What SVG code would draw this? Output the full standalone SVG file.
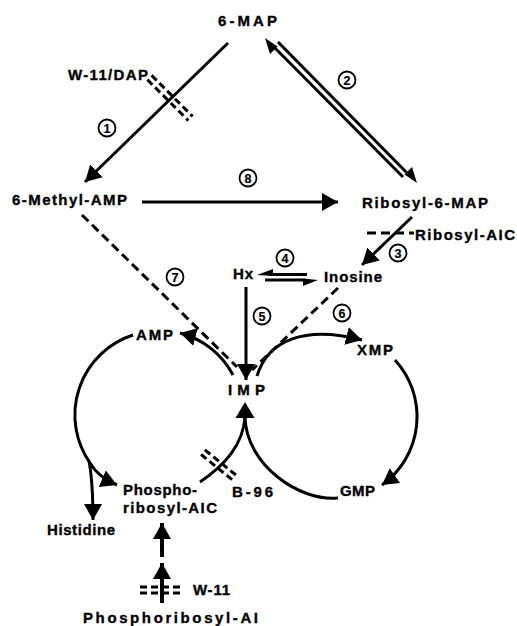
<svg xmlns="http://www.w3.org/2000/svg" width="517" height="626" viewBox="0 0 517 626">
  <style>
    text { font-family: "Liberation Sans", Arial, sans-serif; font-weight: bold; font-size: 15px; fill: #000; stroke: #000; stroke-width: 0.35; }
    .num { font-size: 12.5px; text-anchor: middle; stroke-width: 0.2; }
    .ln { fill: none; stroke: #000; stroke-width: 3; }
    .thick { fill: none; stroke: #000; stroke-width: 4; }
    .dash { fill: none; stroke: #000; stroke-width: 3; stroke-dasharray: 9 5; }
    .bar { fill: none; stroke: #000; stroke-width: 3; stroke-dasharray: 7 4; }
    .circ { fill: #fff; stroke: #000; stroke-width: 1.8; }
    .head { fill: #000; stroke: none; }
  </style>
  <defs>
    <marker id="ahBig" markerUnits="userSpaceOnUse" markerWidth="20" markerHeight="20" refX="16" refY="9" orient="auto">
      <path d="M0,0 L16,9 L0,18 z" fill="#000"/>
    </marker>
  </defs>

  <!-- connectors -->
  <g id="connectors">
    <!-- 1: 6-MAP to 6-Methyl-AMP -->
    <line class="ln" x1="228" y1="43" x2="85" y2="182" marker-end="url(#ahBig)"/>
    <!-- 2: reversible 6-MAP / Ribosyl-6-MAP -->
    <line class="ln" x1="403" y1="177" x2="272" y2="45" stroke-width="2.6"/>
    <polygon class="head" points="265,38 270,54 277.5,46.5"/>
    <line class="ln" x1="278" y1="42" x2="410" y2="176" stroke-width="2.6"/>
    <polygon class="head" points="417,183 412,167 404.5,174.5"/>
    <!-- 8: 6-Methyl-AMP to Ribosyl-6-MAP -->
    <line class="ln" x1="142" y1="202" x2="338" y2="202" marker-end="url(#ahBig)"/>
    <!-- 3: Ribosyl-6-MAP to Inosine -->
    <line class="ln" x1="412" y1="217" x2="362" y2="265" marker-end="url(#ahBig)"/>
    <!-- Ribosyl-AIC side branch -->
    <line class="dash" x1="367" y1="233" x2="414" y2="233" stroke-dasharray="10 6"/>
    <!-- 4: Hx / Inosine equilibrium -->
    <line class="ln" x1="270" y1="274.5" x2="307" y2="274.5" stroke-width="2.6"/>
    <polygon class="head" points="257,275 273,269 273,276"/>
    <line class="ln" x1="265" y1="280" x2="305" y2="280" stroke-width="2.6"/>
    <polygon class="head" points="318,280 303,278.5 303,286"/>
    <!-- 5: Hx to IMP -->
    <line class="ln" x1="246" y1="287" x2="246" y2="380" marker-end="url(#ahBig)"/>
    <!-- 7: 6-Methyl-AMP to IMP -->
    <line class="dash" x1="82" y1="215" x2="237" y2="367"/>
    <!-- 6: Inosine to IMP -->
    <line class="dash" x1="338" y1="288" x2="252" y2="370"/>
    <!-- IMP to AMP -->
    <path class="ln" d="M233,375 A84,84 0 0 0 180,333" marker-end="url(#ahBig)"/>
    <!-- IMP to XMP -->
    <path class="ln" d="M257,376 C268,340 305,325 362,340" marker-end="url(#ahBig)"/>
    <!-- XMP to GMP -->
    <path class="ln" d="M395,360 A84,84 0 0 1 382,485" marker-end="url(#ahBig)"/>
    <!-- GMP to IMP -->
    <path class="ln" d="M338,498 C300,502 246,465 245,417"/>
    <!-- Phospho-ribosyl-AIC to IMP -->
    <path class="ln" d="M200,482 C225,465 243,445 245,417"/>
    <polygon class="head" points="245,402 254.5,418 235.5,418"/>
    <!-- AMP to Phospho-ribosyl-AIC -->
    <path class="ln" d="M133,335 A84,84 0 0 0 90,463 C95,472 103,479 117,485" marker-end="url(#ahBig)"/>
    <!-- branch to Histidine -->
    <path class="ln" d="M89,461 Q93,482 93,520" marker-end="url(#ahBig)"/>
    <!-- Phosphoribosyl-AI to Phospho-ribosyl-AIC -->
    <line class="thick" x1="162" y1="603" x2="162" y2="563" marker-end="url(#ahBig)"/>
    <line class="thick" x1="162" y1="557" x2="162" y2="523" marker-end="url(#ahBig)"/>
  </g>

  <!-- inhibitor bars -->
  <g id="inhibitors">
    <g transform="rotate(45 170 98)">
      <line class="bar" x1="141" y1="95" x2="199" y2="95"/>
      <line class="bar" x1="141" y1="101" x2="199" y2="101"/>
    </g>
    <g transform="rotate(39 220 466)">
      <line class="bar" x1="198" y1="463" x2="242" y2="463"/>
      <line class="bar" x1="198" y1="469" x2="242" y2="469"/>
    </g>
    <line class="bar" x1="140" y1="587" x2="183" y2="587" stroke-dasharray="9 8"/>
    <line class="bar" x1="140" y1="593" x2="183" y2="593" stroke-dasharray="9 8"/>
  </g>

  <!-- compounds -->
  <g id="n-6map"><text x="218" y="26" textLength="59">6-MAP</text></g>
  <g id="n-w11dap"><text x="68" y="80" textLength="80">W-11/DAP</text></g>
  <g id="n-methylamp"><text x="12" y="205" textLength="115">6-Methyl-AMP</text></g>
  <g id="n-ribosyl6map"><text x="362" y="208" textLength="126">Ribosyl-6-MAP</text></g>
  <g id="n-ribosylaic"><text x="415" y="240" textLength="100">Ribosyl-AIC</text></g>
  <g id="n-hx"><text x="233" y="279" textLength="20">Hx</text></g>
  <g id="n-inosine"><text x="324" y="282" textLength="58">Inosine</text></g>
  <g id="n-amp"><text x="136" y="340" textLength="37">AMP</text></g>
  <g id="n-xmp"><text x="357" y="355" textLength="36">XMP</text></g>
  <g id="n-imp"><text x="228" y="395" textLength="37">IMP</text></g>
  <g id="n-praic"><text x="123" y="495" textLength="74">Phospho-</text><text x="123" y="513" textLength="94">ribosyl-AIC</text></g>
  <g id="n-b96"><text x="232" y="497" textLength="41">B-96</text></g>
  <g id="n-gmp"><text x="340" y="496" textLength="35">GMP</text></g>
  <g id="n-histidine"><text x="47" y="535" textLength="68">Histidine</text></g>
  <g id="n-w11"><text x="193" y="595" textLength="37">W-11</text></g>
  <g id="n-prai"><text x="83" y="623" textLength="175">Phosphoribosyl-AI</text></g>

  <!-- reaction numbers -->
  <g id="steps">
    <circle class="circ" cx="107" cy="128" r="8.5"/><text class="num" x="107" y="132.5">1</text>
    <circle class="circ" cx="347" cy="80" r="8.5"/><text class="num" x="347" y="84.5">2</text>
    <circle class="circ" cx="398" cy="253" r="8.5"/><text class="num" x="398" y="257.5">3</text>
    <circle class="circ" cx="285" cy="258" r="8.5"/><text class="num" x="285" y="262.5">4</text>
    <circle class="circ" cx="262" cy="316" r="8.5"/><text class="num" x="262" y="320.5">5</text>
    <circle class="circ" cx="342" cy="313" r="8.5"/><text class="num" x="342" y="317.5">6</text>
    <circle class="circ" cx="175" cy="277" r="8.5"/><text class="num" x="175" y="281.5">7</text>
    <circle class="circ" cx="248" cy="178" r="8.5"/><text class="num" x="248" y="182.5">8</text>
  </g>
</svg>
